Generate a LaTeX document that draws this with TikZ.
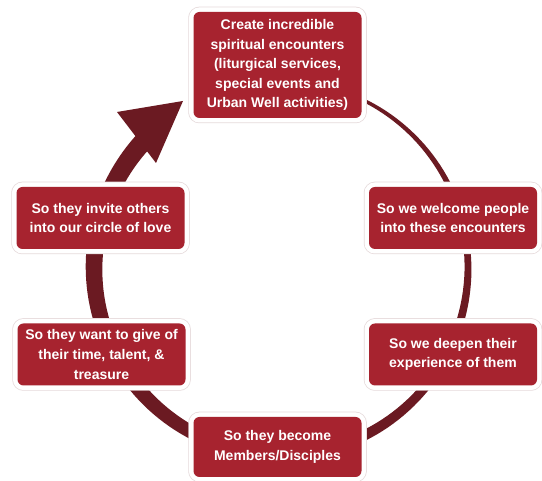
\documentclass[tikz,border=0pt]{standalone}
\usepackage{fontspec}
\setmainfont{Liberation Sans}
\definecolor{boxred}{HTML}{A7232F}
\definecolor{ringc}{HTML}{6B1A22}
\definecolor{edgec}{HTML}{E6DADB}
\begin{document}
\begin{tikzpicture}[x=1pt,y=1pt,
  stepbox/.style={fill=boxred, rounded corners=6pt, inner sep=0pt,
    minimum width=168pt, minimum height=62pt, text=white, align=center,
    font=\bfseries\fontsize{14}{19.6}\selectfont,
    preaction={draw=edgec, line width=10.5pt},
    preaction={draw=white, line width=9pt}}]
\useasboundingbox[fill=white] (0,0) rectangle (542,481);
\coordinate (c) at (281,213);
% tapered ring
\begin{scope}[shift={(c)}]
\fill[ringc] plot[domain=0:1, samples=160] ({90-314*\x}:{187+1+8.5*\x})
  -- plot[domain=0:1, samples=160] ({90-314*(1-\x)}:{187-1-8.5*(1-\x)}) -- cycle;
\end{scope}
\coordinate (tip) at (183,380);
\coordinate (hb1) at (117,369);
\coordinate (hb2) at (156,318);
\fill[ringc] (tip) -- (hb1) -- (hb2) -- cycle;
% boxes
\node[stepbox, minimum height=106pt] (top) at (277.5,416) {Create incredible\\spiritual encounters\\(liturgical services,\\special events and\\Urban Well activities)};
\node[stepbox] (welcome) at (453,263) {So we welcome people\\into these encounters};
\node[stepbox] (deepen) at (453,126.5) {So we deepen their\\experience of them};
\node[stepbox, minimum height=60pt] (members) at (277.5,34) {So they become\\Members/Disciples};
\node[stepbox] (give) at (101.5,126.5) {So they want to give of\\their time, talent, \&\\treasure};
\node[stepbox] (invite) at (100.5,263) {So they invite others\\into our circle of love};
\end{tikzpicture}
\end{document}
